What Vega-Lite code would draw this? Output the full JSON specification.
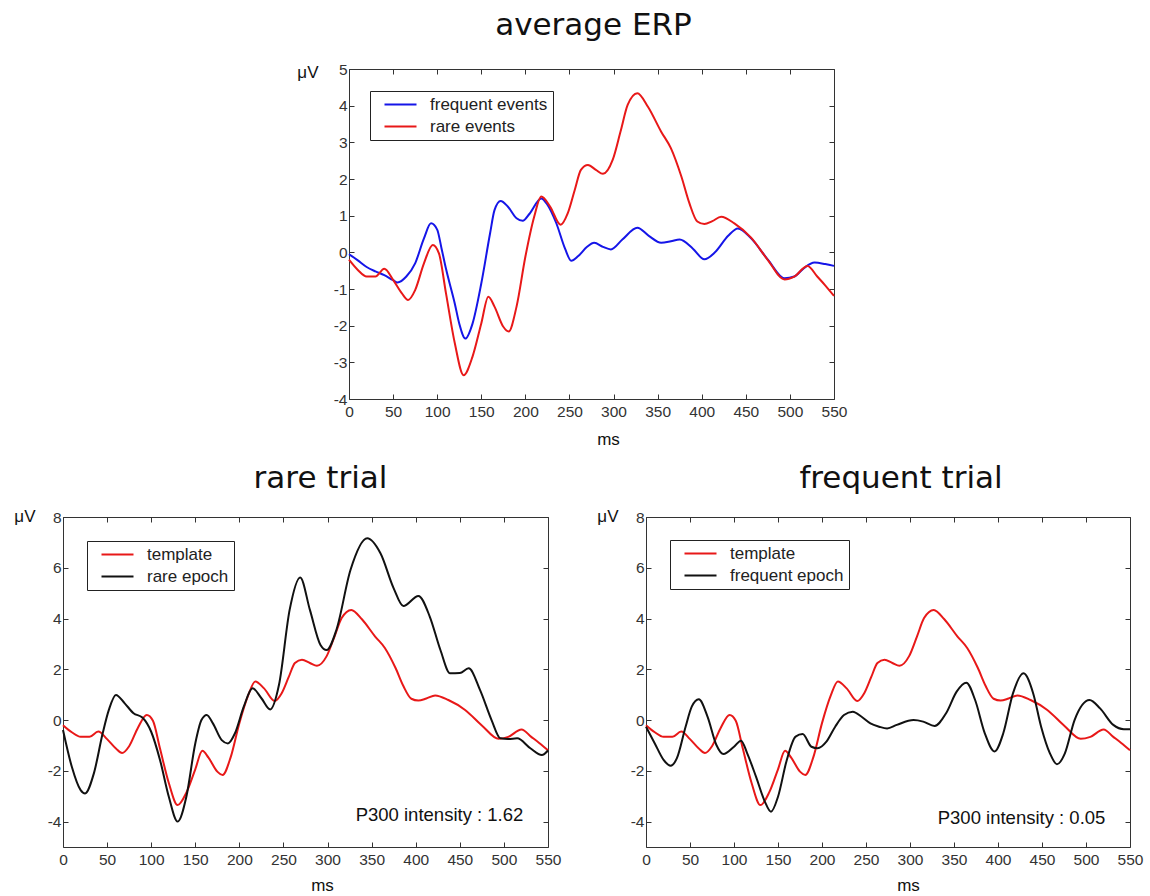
{
  "$schema": "https://vega.github.io/schema/vega-lite/v6.json",
  "background": "white",
  "padding": {"left": 13, "top": 9, "right": 0, "bottom": 0},
  "config": {
    "view": {"stroke": "#333", "strokeWidth": 1},
    "axis": {"domain": false, "grid": false, "tickSize": -5, "tickColor": "#333", "tickWidth": 1,
      "labelFont": "Liberation Sans", "labelFontSize": 15.5, "labelColor": "#333", "labelFlush": false, "labelOverlap": false, "labelBound": false,
      "labelExpr": "datum.value < 0 ? '-' + abs(datum.value) : '' + datum.value",
      "titleFont": "Liberation Sans", "titleFontSize": 17, "titleFontWeight": "normal", "titleColor": "#111"},
    "axisX": {"labelPadding": 10},
    "axisY": {"labelPadding": 7},
    "title": {"font": "DejaVu Sans", "fontSize": 31, "fontWeight": "normal", "color": "#111", "baseline": "alphabetic", "anchor": "middle"},
    "legend": {"orient": "none", "title": null, "strokeColor": "#222", "fillColor": "white", "padding": 5,
      "labelFont": "Liberation Sans", "labelFontSize": 17, "labelColor": "#222", "labelOffset": 21,
      "symbolType": "M-3.2,0H3.2", "symbolSize": 100, "symbolStrokeWidth": 2, "symbolOffset": 17, "rowPadding": 4}
  },
  "datasets": {
    "erp": [
      {"ms":0,"uV":-0.05,"series":"frequent events"},{"ms":10,"uV":-0.22,"series":"frequent events"},{"ms":20,"uV":-0.4,"series":"frequent events"},{"ms":30,"uV":-0.52,"series":"frequent events"},{"ms":40,"uV":-0.62,"series":"frequent events"},{"ms":50,"uV":-0.76,"series":"frequent events"},{"ms":55,"uV":-0.82,"series":"frequent events"},{"ms":65,"uV":-0.66,"series":"frequent events"},{"ms":75,"uV":-0.3,"series":"frequent events"},{"ms":85,"uV":0.38,"series":"frequent events"},{"ms":93,"uV":0.79,"series":"frequent events"},{"ms":100,"uV":0.62,"series":"frequent events"},{"ms":105,"uV":0.1,"series":"frequent events"},{"ms":110,"uV":-0.45,"series":"frequent events"},{"ms":120,"uV":-1.4,"series":"frequent events"},{"ms":125,"uV":-1.94,"series":"frequent events"},{"ms":132,"uV":-2.35,"series":"frequent events"},{"ms":140,"uV":-1.95,"series":"frequent events"},{"ms":150,"uV":-0.85,"series":"frequent events"},{"ms":160,"uV":0.52,"series":"frequent events"},{"ms":165,"uV":1.15,"series":"frequent events"},{"ms":172,"uV":1.4,"series":"frequent events"},{"ms":180,"uV":1.25,"series":"frequent events"},{"ms":190,"uV":0.93,"series":"frequent events"},{"ms":197,"uV":0.86,"series":"frequent events"},{"ms":205,"uV":1.06,"series":"frequent events"},{"ms":218,"uV":1.47,"series":"frequent events"},{"ms":225,"uV":1.3,"series":"frequent events"},{"ms":235,"uV":0.8,"series":"frequent events"},{"ms":245,"uV":0.1,"series":"frequent events"},{"ms":252,"uV":-0.23,"series":"frequent events"},{"ms":260,"uV":-0.1,"series":"frequent events"},{"ms":270,"uV":0.15,"series":"frequent events"},{"ms":278,"uV":0.26,"series":"frequent events"},{"ms":288,"uV":0.15,"series":"frequent events"},{"ms":297,"uV":0.08,"series":"frequent events"},{"ms":310,"uV":0.35,"series":"frequent events"},{"ms":327,"uV":0.67,"series":"frequent events"},{"ms":340,"uV":0.45,"series":"frequent events"},{"ms":354,"uV":0.26,"series":"frequent events"},{"ms":365,"uV":0.3,"series":"frequent events"},{"ms":375,"uV":0.35,"series":"frequent events"},{"ms":390,"uV":0.1,"series":"frequent events"},{"ms":403,"uV":-0.19,"series":"frequent events"},{"ms":415,"uV":0.0,"series":"frequent events"},{"ms":430,"uV":0.45,"series":"frequent events"},{"ms":441,"uV":0.65,"series":"frequent events"},{"ms":456,"uV":0.38,"series":"frequent events"},{"ms":475,"uV":-0.2,"series":"frequent events"},{"ms":494,"uV":-0.71,"series":"frequent events"},{"ms":505,"uV":-0.66,"series":"frequent events"},{"ms":515,"uV":-0.45,"series":"frequent events"},{"ms":528,"uV":-0.28,"series":"frequent events"},{"ms":540,"uV":-0.32,"series":"frequent events"},{"ms":550,"uV":-0.37,"series":"frequent events"},
      {"ms":0,"uV":-0.2,"series":"rare events"},{"ms":10,"uV":-0.48,"series":"rare events"},{"ms":20,"uV":-0.66,"series":"rare events"},{"ms":30,"uV":-0.66,"series":"rare events"},{"ms":40,"uV":-0.45,"series":"rare events"},{"ms":50,"uV":-0.75,"series":"rare events"},{"ms":60,"uV":-1.12,"series":"rare events"},{"ms":67,"uV":-1.3,"series":"rare events"},{"ms":75,"uV":-1.03,"series":"rare events"},{"ms":85,"uV":-0.3,"series":"rare events"},{"ms":95,"uV":0.2,"series":"rare events"},{"ms":102,"uV":-0.03,"series":"rare events"},{"ms":110,"uV":-1.12,"series":"rare events"},{"ms":120,"uV":-2.48,"series":"rare events"},{"ms":130,"uV":-3.35,"series":"rare events"},{"ms":140,"uV":-2.85,"series":"rare events"},{"ms":150,"uV":-1.94,"series":"rare events"},{"ms":158,"uV":-1.21,"series":"rare events"},{"ms":165,"uV":-1.48,"series":"rare events"},{"ms":175,"uV":-2.03,"series":"rare events"},{"ms":181,"uV":-2.16,"series":"rare events"},{"ms":190,"uV":-1.48,"series":"rare events"},{"ms":200,"uV":-0.12,"series":"rare events"},{"ms":210,"uV":0.97,"series":"rare events"},{"ms":218,"uV":1.52,"series":"rare events"},{"ms":228,"uV":1.25,"series":"rare events"},{"ms":240,"uV":0.75,"series":"rare events"},{"ms":248,"uV":1.06,"series":"rare events"},{"ms":256,"uV":1.7,"series":"rare events"},{"ms":263,"uV":2.25,"series":"rare events"},{"ms":271,"uV":2.38,"series":"rare events"},{"ms":280,"uV":2.25,"series":"rare events"},{"ms":288,"uV":2.14,"series":"rare events"},{"ms":299,"uV":2.52,"series":"rare events"},{"ms":308,"uV":3.3,"series":"rare events"},{"ms":316,"uV":4.02,"series":"rare events"},{"ms":327,"uV":4.34,"series":"rare events"},{"ms":339,"uV":3.97,"series":"rare events"},{"ms":354,"uV":3.29,"series":"rare events"},{"ms":365,"uV":2.84,"series":"rare events"},{"ms":377,"uV":2.06,"series":"rare events"},{"ms":386,"uV":1.34,"series":"rare events"},{"ms":395,"uV":0.84,"series":"rare events"},{"ms":403,"uV":0.77,"series":"rare events"},{"ms":412,"uV":0.85,"series":"rare events"},{"ms":422,"uV":0.97,"series":"rare events"},{"ms":437,"uV":0.79,"series":"rare events"},{"ms":456,"uV":0.4,"series":"rare events"},{"ms":475,"uV":-0.21,"series":"rare events"},{"ms":494,"uV":-0.74,"series":"rare events"},{"ms":505,"uV":-0.66,"series":"rare events"},{"ms":520,"uV":-0.37,"series":"rare events"},{"ms":531,"uV":-0.66,"series":"rare events"},{"ms":540,"uV":-0.9,"series":"rare events"},{"ms":550,"uV":-1.19,"series":"rare events"}
    ],
    "rareTrial": [
      {"ms":0,"uV":-0.2,"series":"template"},{"ms":10,"uV":-0.48,"series":"template"},{"ms":20,"uV":-0.66,"series":"template"},{"ms":30,"uV":-0.66,"series":"template"},{"ms":40,"uV":-0.45,"series":"template"},{"ms":50,"uV":-0.75,"series":"template"},{"ms":60,"uV":-1.12,"series":"template"},{"ms":67,"uV":-1.3,"series":"template"},{"ms":75,"uV":-1.03,"series":"template"},{"ms":85,"uV":-0.3,"series":"template"},{"ms":95,"uV":0.2,"series":"template"},{"ms":102,"uV":-0.03,"series":"template"},{"ms":110,"uV":-1.12,"series":"template"},{"ms":120,"uV":-2.48,"series":"template"},{"ms":130,"uV":-3.35,"series":"template"},{"ms":140,"uV":-2.85,"series":"template"},{"ms":150,"uV":-1.94,"series":"template"},{"ms":158,"uV":-1.21,"series":"template"},{"ms":165,"uV":-1.48,"series":"template"},{"ms":175,"uV":-2.03,"series":"template"},{"ms":181,"uV":-2.16,"series":"template"},{"ms":190,"uV":-1.48,"series":"template"},{"ms":200,"uV":-0.12,"series":"template"},{"ms":210,"uV":0.97,"series":"template"},{"ms":218,"uV":1.52,"series":"template"},{"ms":228,"uV":1.25,"series":"template"},{"ms":240,"uV":0.75,"series":"template"},{"ms":248,"uV":1.06,"series":"template"},{"ms":256,"uV":1.7,"series":"template"},{"ms":263,"uV":2.25,"series":"template"},{"ms":271,"uV":2.38,"series":"template"},{"ms":280,"uV":2.25,"series":"template"},{"ms":288,"uV":2.14,"series":"template"},{"ms":299,"uV":2.52,"series":"template"},{"ms":308,"uV":3.3,"series":"template"},{"ms":316,"uV":4.02,"series":"template"},{"ms":327,"uV":4.34,"series":"template"},{"ms":339,"uV":3.97,"series":"template"},{"ms":354,"uV":3.29,"series":"template"},{"ms":365,"uV":2.84,"series":"template"},{"ms":377,"uV":2.06,"series":"template"},{"ms":386,"uV":1.34,"series":"template"},{"ms":395,"uV":0.84,"series":"template"},{"ms":403,"uV":0.77,"series":"template"},{"ms":412,"uV":0.85,"series":"template"},{"ms":422,"uV":0.97,"series":"template"},{"ms":437,"uV":0.79,"series":"template"},{"ms":456,"uV":0.4,"series":"template"},{"ms":475,"uV":-0.21,"series":"template"},{"ms":494,"uV":-0.74,"series":"template"},{"ms":505,"uV":-0.66,"series":"template"},{"ms":520,"uV":-0.37,"series":"template"},{"ms":531,"uV":-0.66,"series":"template"},{"ms":540,"uV":-0.9,"series":"template"},{"ms":550,"uV":-1.19,"series":"template"},
      {"ms":0,"uV":-0.39,"series":"rare epoch"},{"ms":10,"uV":-1.84,"series":"rare epoch"},{"ms":20,"uV":-2.76,"series":"rare epoch"},{"ms":25,"uV":-2.89,"series":"rare epoch"},{"ms":35,"uV":-2.1,"series":"rare epoch"},{"ms":45,"uV":-0.52,"series":"rare epoch"},{"ms":52,"uV":0.4,"series":"rare epoch"},{"ms":60,"uV":0.99,"series":"rare epoch"},{"ms":70,"uV":0.66,"series":"rare epoch"},{"ms":80,"uV":0.27,"series":"rare epoch"},{"ms":90,"uV":0.1,"series":"rare epoch"},{"ms":100,"uV":-0.46,"series":"rare epoch"},{"ms":110,"uV":-1.57,"series":"rare epoch"},{"ms":120,"uV":-3.02,"series":"rare epoch"},{"ms":130,"uV":-4.0,"series":"rare epoch"},{"ms":140,"uV":-3.0,"series":"rare epoch"},{"ms":150,"uV":-0.92,"series":"rare epoch"},{"ms":157,"uV":0.0,"series":"rare epoch"},{"ms":163,"uV":0.2,"series":"rare epoch"},{"ms":170,"uV":-0.13,"series":"rare epoch"},{"ms":180,"uV":-0.79,"series":"rare epoch"},{"ms":187,"uV":-0.92,"series":"rare epoch"},{"ms":195,"uV":-0.52,"series":"rare epoch"},{"ms":205,"uV":0.53,"series":"rare epoch"},{"ms":215,"uV":1.25,"series":"rare epoch"},{"ms":225,"uV":0.86,"series":"rare epoch"},{"ms":235,"uV":0.42,"series":"rare epoch"},{"ms":245,"uV":1.4,"series":"rare epoch"},{"ms":257,"uV":4.34,"series":"rare epoch"},{"ms":269,"uV":5.62,"series":"rare epoch"},{"ms":280,"uV":4.34,"series":"rare epoch"},{"ms":292,"uV":2.96,"series":"rare epoch"},{"ms":299,"uV":2.76,"series":"rare epoch"},{"ms":310,"uV":3.55,"series":"rare epoch"},{"ms":326,"uV":5.91,"series":"rare epoch"},{"ms":345,"uV":7.16,"series":"rare epoch"},{"ms":360,"uV":6.57,"series":"rare epoch"},{"ms":375,"uV":5.19,"series":"rare epoch"},{"ms":386,"uV":4.49,"series":"rare epoch"},{"ms":403,"uV":4.89,"series":"rare epoch"},{"ms":416,"uV":4.07,"series":"rare epoch"},{"ms":428,"uV":2.76,"series":"rare epoch"},{"ms":439,"uV":1.84,"series":"rare epoch"},{"ms":450,"uV":1.85,"series":"rare epoch"},{"ms":460,"uV":2.04,"series":"rare epoch"},{"ms":473,"uV":1.18,"series":"rare epoch"},{"ms":486,"uV":0.0,"series":"rare epoch"},{"ms":496,"uV":-0.72,"series":"rare epoch"},{"ms":505,"uV":-0.75,"series":"rare epoch"},{"ms":515,"uV":-0.72,"series":"rare epoch"},{"ms":530,"uV":-1.11,"series":"rare epoch"},{"ms":543,"uV":-1.38,"series":"rare epoch"},{"ms":550,"uV":-1.2,"series":"rare epoch"}
    ],
    "freqTrial": [
      {"ms":0,"uV":-0.2,"series":"template"},{"ms":10,"uV":-0.48,"series":"template"},{"ms":20,"uV":-0.66,"series":"template"},{"ms":30,"uV":-0.66,"series":"template"},{"ms":40,"uV":-0.45,"series":"template"},{"ms":50,"uV":-0.75,"series":"template"},{"ms":60,"uV":-1.12,"series":"template"},{"ms":67,"uV":-1.3,"series":"template"},{"ms":75,"uV":-1.03,"series":"template"},{"ms":85,"uV":-0.3,"series":"template"},{"ms":95,"uV":0.2,"series":"template"},{"ms":102,"uV":-0.03,"series":"template"},{"ms":110,"uV":-1.12,"series":"template"},{"ms":120,"uV":-2.48,"series":"template"},{"ms":130,"uV":-3.35,"series":"template"},{"ms":140,"uV":-2.85,"series":"template"},{"ms":150,"uV":-1.94,"series":"template"},{"ms":158,"uV":-1.21,"series":"template"},{"ms":165,"uV":-1.48,"series":"template"},{"ms":175,"uV":-2.03,"series":"template"},{"ms":181,"uV":-2.16,"series":"template"},{"ms":190,"uV":-1.48,"series":"template"},{"ms":200,"uV":-0.12,"series":"template"},{"ms":210,"uV":0.97,"series":"template"},{"ms":218,"uV":1.52,"series":"template"},{"ms":228,"uV":1.25,"series":"template"},{"ms":240,"uV":0.75,"series":"template"},{"ms":248,"uV":1.06,"series":"template"},{"ms":256,"uV":1.7,"series":"template"},{"ms":263,"uV":2.25,"series":"template"},{"ms":271,"uV":2.38,"series":"template"},{"ms":280,"uV":2.25,"series":"template"},{"ms":288,"uV":2.14,"series":"template"},{"ms":299,"uV":2.52,"series":"template"},{"ms":308,"uV":3.3,"series":"template"},{"ms":316,"uV":4.02,"series":"template"},{"ms":327,"uV":4.34,"series":"template"},{"ms":339,"uV":3.97,"series":"template"},{"ms":354,"uV":3.29,"series":"template"},{"ms":365,"uV":2.84,"series":"template"},{"ms":377,"uV":2.06,"series":"template"},{"ms":386,"uV":1.34,"series":"template"},{"ms":395,"uV":0.84,"series":"template"},{"ms":403,"uV":0.77,"series":"template"},{"ms":412,"uV":0.85,"series":"template"},{"ms":422,"uV":0.97,"series":"template"},{"ms":437,"uV":0.79,"series":"template"},{"ms":456,"uV":0.4,"series":"template"},{"ms":475,"uV":-0.21,"series":"template"},{"ms":494,"uV":-0.74,"series":"template"},{"ms":505,"uV":-0.66,"series":"template"},{"ms":520,"uV":-0.37,"series":"template"},{"ms":531,"uV":-0.66,"series":"template"},{"ms":540,"uV":-0.9,"series":"template"},{"ms":550,"uV":-1.19,"series":"template"},
      {"ms":0,"uV":-0.26,"series":"frequent epoch"},{"ms":10,"uV":-0.92,"series":"frequent epoch"},{"ms":20,"uV":-1.57,"series":"frequent epoch"},{"ms":28,"uV":-1.8,"series":"frequent epoch"},{"ms":35,"uV":-1.51,"series":"frequent epoch"},{"ms":45,"uV":-0.26,"series":"frequent epoch"},{"ms":52,"uV":0.53,"series":"frequent epoch"},{"ms":60,"uV":0.82,"series":"frequent epoch"},{"ms":70,"uV":0.13,"series":"frequent epoch"},{"ms":80,"uV":-0.98,"series":"frequent epoch"},{"ms":88,"uV":-1.34,"series":"frequent epoch"},{"ms":100,"uV":-1.05,"series":"frequent epoch"},{"ms":108,"uV":-0.81,"series":"frequent epoch"},{"ms":115,"uV":-1.31,"series":"frequent epoch"},{"ms":125,"uV":-2.23,"series":"frequent epoch"},{"ms":135,"uV":-3.21,"series":"frequent epoch"},{"ms":142,"uV":-3.61,"series":"frequent epoch"},{"ms":150,"uV":-3.02,"series":"frequent epoch"},{"ms":160,"uV":-1.57,"series":"frequent epoch"},{"ms":170,"uV":-0.65,"series":"frequent epoch"},{"ms":178,"uV":-0.55,"series":"frequent epoch"},{"ms":188,"uV":-1.05,"series":"frequent epoch"},{"ms":195,"uV":-1.11,"series":"frequent epoch"},{"ms":205,"uV":-0.85,"series":"frequent epoch"},{"ms":215,"uV":-0.26,"series":"frequent epoch"},{"ms":225,"uV":0.2,"series":"frequent epoch"},{"ms":235,"uV":0.33,"series":"frequent epoch"},{"ms":245,"uV":0.13,"series":"frequent epoch"},{"ms":255,"uV":-0.13,"series":"frequent epoch"},{"ms":265,"uV":-0.26,"series":"frequent epoch"},{"ms":274,"uV":-0.33,"series":"frequent epoch"},{"ms":285,"uV":-0.19,"series":"frequent epoch"},{"ms":304,"uV":0.0,"series":"frequent epoch"},{"ms":315,"uV":-0.06,"series":"frequent epoch"},{"ms":328,"uV":-0.23,"series":"frequent epoch"},{"ms":341,"uV":0.27,"series":"frequent epoch"},{"ms":353,"uV":1.12,"series":"frequent epoch"},{"ms":364,"uV":1.47,"series":"frequent epoch"},{"ms":374,"uV":0.79,"series":"frequent epoch"},{"ms":385,"uV":-0.52,"series":"frequent epoch"},{"ms":396,"uV":-1.24,"series":"frequent epoch"},{"ms":406,"uV":-0.52,"series":"frequent epoch"},{"ms":417,"uV":1.05,"series":"frequent epoch"},{"ms":429,"uV":1.84,"series":"frequent epoch"},{"ms":440,"uV":1.05,"series":"frequent epoch"},{"ms":449,"uV":-0.26,"series":"frequent epoch"},{"ms":459,"uV":-1.31,"series":"frequent epoch"},{"ms":467,"uV":-1.74,"series":"frequent epoch"},{"ms":476,"uV":-1.31,"series":"frequent epoch"},{"ms":487,"uV":0.0,"series":"frequent epoch"},{"ms":504,"uV":0.79,"series":"frequent epoch"},{"ms":516,"uV":0.46,"series":"frequent epoch"},{"ms":531,"uV":-0.19,"series":"frequent epoch"},{"ms":543,"uV":-0.36,"series":"frequent epoch"},{"ms":550,"uV":-0.36,"series":"frequent epoch"}
    ]
  },
  "vconcat": [
    {
      "hconcat": [
        {
          "width": 286, "height": 330,
          "view": {"stroke": null},
          "data": {"values": [{"blank": ""}]},
          "mark": {"type": "text"},
          "encoding": {"text": {"field": "blank"}}
        },
        {
          "width": 485, "height": 330,
          "title": {"text": "average ERP", "offset": 20, "dx": 2},
          "data": {"name": "erp"},
          "layer": [
            {
              "mark": {"type": "line", "interpolate": "monotone", "strokeWidth": 2},
              "encoding": {
                "x": {"field": "ms", "type": "quantitative", "scale": {"domain": [0, 550], "nice": false},
                  "axis": {"orient": "bottom", "values": [0,50,100,150,200,250,300,350,400,450,500,550], "title": "ms", "titleX": 259, "titleY": 45, "titleBaseline": "alphabetic", "titleAlign": "center"}},
                "y": {"field": "uV", "type": "quantitative", "scale": {"domain": [-4, 5], "nice": false},
                  "axis": {"orient": "left", "values": [-4,-3,-2,-1,0,1,2,3,4,5], "title": "μV", "titleAngle": 0, "titleAlign": "right", "titleBaseline": "alphabetic", "titleX": -31, "titleY": 8}},
                "color": {"field": "series", "type": "nominal", "scale": {"domain": ["frequent events", "rare events"], "range": ["#1515e8", "#e81818"]},
                  "legend": {"legendX": 21, "legendY": 22}}
              }
            },
            {
              "mark": {"type": "line", "strokeOpacity": 0},
              "encoding": {
                "x": {"field": "ms", "type": "quantitative", "axis": {"orient": "top", "values": [0,50,100,150,200,250,300,350,400,450,500,550], "labels": false, "title": null}},
                "y": {"field": "uV", "type": "quantitative", "axis": {"orient": "right", "values": [-4,-3,-2,-1,0,1,2,3,4,5], "labels": false, "title": null}},
                "detail": {"field": "series"}
              }
            }
          ]
        }
      ],
      "spacing": 0,
      "bounds": "flush",
      "resolve": {"scale": {"color": "independent", "x": "independent", "y": "independent"}, "legend": {"color": "independent"}}
    },
    {
      "hconcat": [
        {
          "width": 485, "height": 330,
          "title": {"text": "rare trial", "offset": 12, "dx": 15},
          "layer": [
            {
              "data": {"name": "rareTrial"},
              "mark": {"type": "line", "interpolate": "monotone", "strokeWidth": 2},
              "encoding": {
                "x": {"field": "ms", "type": "quantitative", "scale": {"domain": [0, 550], "nice": false},
                  "axis": {"orient": "bottom", "values": [0,50,100,150,200,250,300,350,400,450,500,550], "title": "ms", "titleX": 259, "titleY": 43, "titleBaseline": "alphabetic", "titleAlign": "center"}},
                "y": {"field": "uV", "type": "quantitative", "scale": {"domain": [-5, 8], "nice": false},
                  "axis": {"orient": "left", "values": [-4,-2,0,2,4,6,8], "title": "μV", "titleAngle": 0, "titleAlign": "right", "titleBaseline": "alphabetic", "titleX": -28, "titleY": 4}},
                "color": {"field": "series", "type": "nominal", "scale": {"domain": ["template", "rare epoch"], "range": ["#e81818", "#111111"]},
                  "legend": {"legendX": 24, "legendY": 24}}
              }
            },
            {
              "data": {"values": [{"label": "P300 intensity : 1.62"}]},
              "mark": {"type": "text", "align": "right", "baseline": "middle", "font": "Liberation Sans", "fontSize": 18.5, "color": "#111"},
              "encoding": {
                "x": {"datum": 522, "type": "quantitative", "axis": {"orient": "top", "values": [0,50,100,150,200,250,300,350,400,450,500,550], "labels": false, "title": null}},
                "y": {"datum": -3.75, "type": "quantitative", "axis": {"orient": "right", "values": [-4,-2,0,2,4,6,8], "labels": false, "title": null}},
                "text": {"field": "label"}
              }
            }
          ]
        },
        {
          "width": 484, "height": 330,
          "title": {"text": "frequent trial", "offset": 12, "dx": 13},
          "layer": [
            {
              "data": {"name": "freqTrial"},
              "mark": {"type": "line", "interpolate": "monotone", "strokeWidth": 2},
              "encoding": {
                "x": {"field": "ms", "type": "quantitative", "scale": {"domain": [0, 550], "nice": false},
                  "axis": {"orient": "bottom", "values": [0,50,100,150,200,250,300,350,400,450,500,550], "title": "ms", "titleX": 262, "titleY": 43, "titleBaseline": "alphabetic", "titleAlign": "center"}},
                "y": {"field": "uV", "type": "quantitative", "scale": {"domain": [-5, 8], "nice": false},
                  "axis": {"orient": "left", "values": [-4,-2,0,2,4,6,8], "title": "μV", "titleAngle": 0, "titleAlign": "right", "titleBaseline": "alphabetic", "titleX": -28, "titleY": 4}},
                "color": {"field": "series", "type": "nominal", "scale": {"domain": ["template", "frequent epoch"], "range": ["#e81818", "#111111"]},
                  "legend": {"legendX": 24, "legendY": 23}}
              }
            },
            {
              "data": {"values": [{"label": "P300 intensity : 0.05"}]},
              "mark": {"type": "text", "align": "right", "baseline": "middle", "font": "Liberation Sans", "fontSize": 18.5, "color": "#111"},
              "encoding": {
                "x": {"datum": 522, "type": "quantitative", "axis": {"orient": "top", "values": [0,50,100,150,200,250,300,350,400,450,500,550], "labels": false, "title": null}},
                "y": {"datum": -3.85, "type": "quantitative", "axis": {"orient": "right", "values": [-4,-2,0,2,4,6,8], "labels": false, "title": null}},
                "text": {"field": "label"}
              }
            }
          ]
        }
      ],
      "spacing": 98,
      "bounds": "flush",
      "resolve": {"scale": {"color": "independent", "x": "independent", "y": "independent"}, "legend": {"color": "independent"}}
    }
  ],
  "spacing": 14,
  "resolve": {"scale": {"color": "independent", "x": "independent", "y": "independent"}, "legend": {"color": "independent"}}
}
